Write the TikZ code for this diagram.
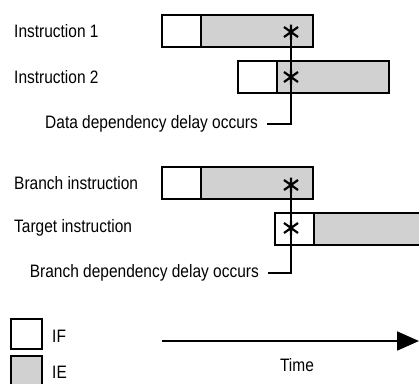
\documentclass[tikz,border=0pt]{standalone}
\usepackage{fontspec}
\setmainfont[FakeStretch=0.86]{Liberation Sans}
\usetikzlibrary{positioning,arrows.meta}

\begin{document}
\begin{tikzpicture}[x=1pt,y=-1pt,>=Latex,
    stage/.style={draw,line width=2.2pt,outer sep=0pt,inner sep=0pt,
      minimum height=32pt,anchor=north west},
    ifbox/.style={stage,minimum width=39pt},
    iebox/.style={stage,fill=black!18,minimum width=112pt},
    txt/.style={inner sep=0pt,font=\fontsize{18}{21}\selectfont},
    delaystar/.pic={
      \draw[line width=2.2pt] (0,-7.5) -- (0,7.5)
        (-7,-5) -- (7,5) (-7,5) -- (7,-5);}]
  % Configurable parameters
  \def\starx{291}
  %
  \useasboundingbox (0,0) rectangle (419,383);
  %
  % Data dependency rows
  \node[txt,anchor=west] (ins1) at (14,31) {Instruction 1};
  \node[ifbox] (i1f) at (162,15) {};
  \node[iebox,right=0pt of i1f] (i1e) {};
  \node[txt,anchor=west] (ins2) at (14,77) {Instruction 2};
  \node[ifbox] (i2f) at (238,61) {};
  \node[iebox,right=0pt of i2f] (i2e) {};
  %
  % Branch dependency rows
  \node[txt,anchor=west] (br) at (14,183) {Branch instruction};
  \node[ifbox] (bf) at (162,167) {};
  \node[iebox,right=0pt of bf] (be) {};
  \node[txt,anchor=west] (tg) at (14,228) {Target instruction};
  \node[ifbox] (tf) at (275,213) {};
  \node[iebox,right=0pt of tf,minimum width=150pt] (te) {};
  %
  % Delay points
  \coordinate (s1) at (\starx,32);
  \coordinate (s2) at (\starx,77);
  \coordinate (s3) at (\starx,185);
  \coordinate (s4) at (\starx,228);
  \foreach \s in {s1,s2,s3,s4}
    \pic at (\s) {delaystar};
  %
  % Delay notes
  \coordinate (dend) at (267,124);
  \node[txt,left=9pt of dend] (dnote) {Data dependency delay occurs};
  \draw[line width=1.5pt] (s1) |- (dend);
  \coordinate (bend) at (268,273);
  \node[txt,left=9pt of bend] (bnote) {Branch dependency delay occurs};
  \draw[line width=1.5pt] (s3) |- (bend);
  %
  % Legend
  \node[ifbox,minimum width=31pt,minimum height=30pt] (kf) at (11,319) {};
  \node[txt,anchor=west] (kftext) at (52,336) {IF};
  \node[iebox,minimum width=31pt,minimum height=30pt] (ke) at (11,356) {};
  \node[txt,anchor=west] (ketext) at (52,372) {IE};
  %
  % Time axis
  \coordinate (tstart) at (162,341);
  \coordinate (tend) at (419,341);
  \draw[line width=1.8pt,-{Triangle[length=22pt,width=19pt]}] (tstart) -- (tend);
  \node[txt] (time) at (297,365) {Time};
  %
\end{tikzpicture}
\end{document}
